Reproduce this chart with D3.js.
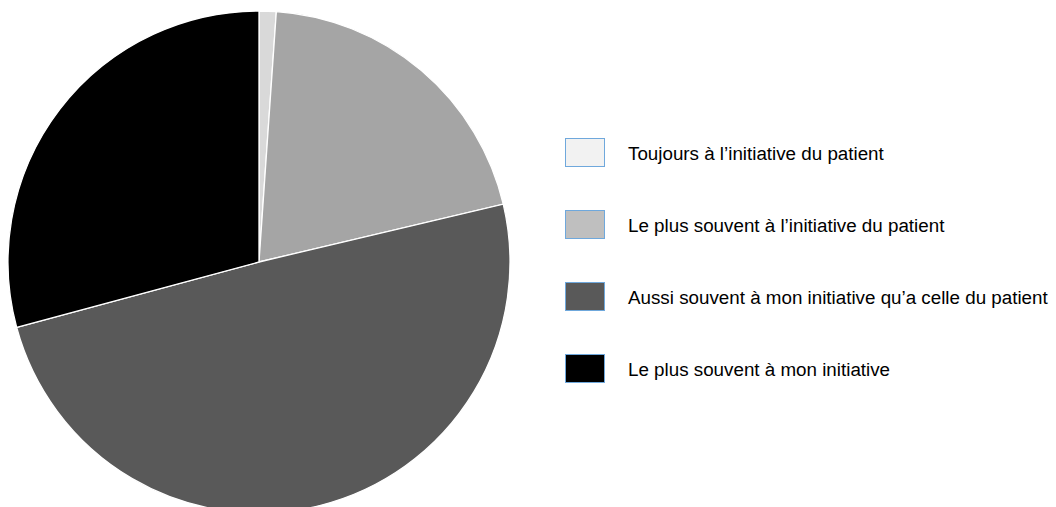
<!DOCTYPE html>
<html>
<head>
<meta charset="utf-8">
<script src="https://cdn.jsdelivr.net/npm/d3@7"></script>
<style>
  body { margin: 0; background: #fff; }
  svg { display: block; font-family: "Liberation Sans", Arial, sans-serif; }
</style>
</head>
<body>
<div id="chart"></div>
<script>
// slice data, clockwise from 12 o'clock
var labels = ["Toujours à l’initiative du patient",
              "Le plus souvent à l’initiative du patient",
              "Aussi souvent à mon initiative qu’a celle du patient",
              "Le plus souvent à mon initiative"];
var values = [1.1, 20.2, 49.5, 29.2];
var pieColors = ["#d9d9d9", "#a5a5a5", "#595959", "#000000"];
var legendColors = ["#f2f2f2", "#bfbfbf", "#595959", "#000000"];

let width = 1056;
let height = 507;

let svg = d3.select('#chart')
  .append('svg')
  .attr('width', width)
  .attr('height', height);

/** draw the pie */
let radius = 251;
let g = svg.append('g').attr('transform', 'translate(259,262)');

let pie = d3.pie().sort(null).value(d => d);
let arc = d3.arc().innerRadius(0).outerRadius(radius);

g.selectAll('.slice')
  .data(pie(values))
  .enter()
  .append('path')
  .attr('class', 'slice')
  .attr('d', arc)
  .attr('fill', (d, i) => pieColors[i])
  .attr('stroke', '#fff')
  .attr('stroke-width', 1.3);

/** legend */
let y = d3.scaleBand().domain(d3.range(labels.length)).range([124, 412]);

let legend = svg.selectAll('.legend')
  .data(labels)
  .enter()
  .append('g')
  .attr('class', 'legend')
  .attr('transform', (d, i) => `translate(0,${y(i)})`);

legend.append('rect')
  .attr('x', 565.5)
  .attr('y', 14.5)
  .attr('width', 39)
  .attr('height', 28)
  .attr('fill', (d, i) => legendColors[i])
  .attr('stroke', '#6fa8dc')
  .attr('stroke-width', 1);

legend.append('text')
  .attr('x', 628)
  .attr('y', 36)
  .attr('font-size', 18.8)
  .attr('fill', '#000')
  .text(d => d);
</script>
</body>
</html>
